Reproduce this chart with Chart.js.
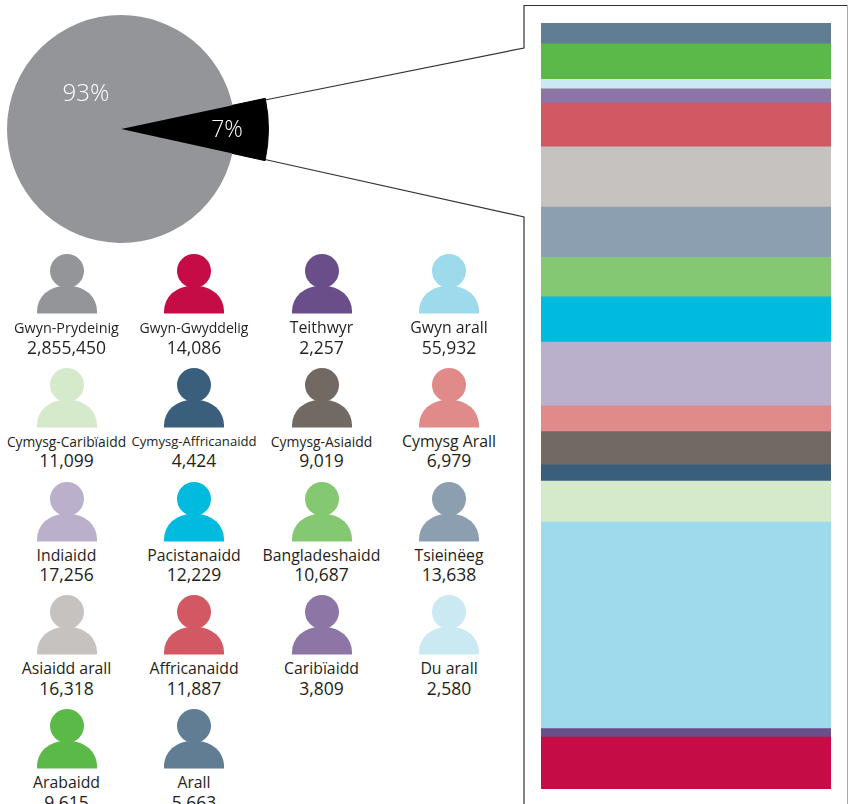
<!DOCTYPE html>
<html lang="cy">
<head>
<meta charset="utf-8">
<title>Grwpiau ethnig</title>
<style>
html, body { margin: 0; padding: 0; background: #fff; }
body { position: relative; width: 848px; height: 804px; overflow: hidden; font-family: "Open Sans", sans-serif; color: #231f20; }
canvas, svg, .txt { position: absolute; }
#pie { left: -27px; top: -19px; }
#bar { left: 541px; top: 23px; }
#frame { left: 0; top: 0; }
.txt { transform: translate(-50%, -50%); white-space: nowrap; }
.pct { color: #fff; font-weight: 300; }
</style>
</head>
<body>
<svg id="frame" width="848" height="804">
  <polyline points="265,100 524,48 524,5.5 847.5,5.5" fill="none" stroke="#333" stroke-width="1.2"/>
  <polyline points="265,159.5 524,217 524,804" fill="none" stroke="#333" stroke-width="1.2"/>
  <line x1="847.5" y1="5.5" x2="847.5" y2="804" stroke="#aaa" stroke-width="1"/>
</svg>
<canvas id="pie" width="296" height="296"></canvas>
<canvas id="bar" width="290" height="766"></canvas>
<div id="people"></div>
<script src="https://cdn.jsdelivr.net/npm/chart.js@4"></script>
<script>
const CATEGORIES = ['Gwyn-Prydeinig', 'Gwyn-Gwyddelig', 'Teithwyr', 'Gwyn arall',
    'Cymysg-Caribïaidd', 'Cymysg-Affricanaidd', 'Cymysg-Asiaidd', 'Cymysg Arall',
    'Indiaidd', 'Pacistanaidd', 'Bangladeshaidd', 'Tsieinëeg',
    'Asiaidd arall', 'Affricanaidd', 'Caribïaidd', 'Du arall',
    'Arabaidd', 'Arall'];
const COUNTS = [2855450, 14086, 2257, 55932,
    11099, 4424, 9019, 6979,
    17256, 12229, 10687, 13638,
    16318, 11887, 3809, 2580,
    9615, 5663];
const COLORS = ['#939598', '#c60c46', '#6a4e8a', '#9cdaec',
    '#d5e9cb', '#3a5f7d', '#716962', '#e08a8a',
    '#bab0cc', '#00bbdd', '#85c872', '#8c9fb1',
    '#c6c2bf', '#d25963', '#8d76a5', '#cae9f2',
    '#5bba47', '#607d94'];
const PIE_LABELS = ['93%', '7%'];

// labels that are set smaller in the original so they fit the column
const LABEL_SIZES = {
    'Gwyn-Prydeinig': 14.4, 'Gwyn-Gwyddelig': 14,
    'Cymysg-Caribïaidd': 13.8, 'Cymysg-Affricanaidd': 13.1, 'Cymysg-Asiaidd': 13.9
};

const COL_X = [66.5, 194, 321.5, 449];
const ROW_Y = 254;
const ROW_STEP = 113.75;

const others = COUNTS.slice(1);
const othersTotal = others.reduce((a, b) => a + b, 0);

Chart.defaults.animation = false;
Chart.defaults.responsive = false;
Chart.defaults.plugins.legend.display = false;
Chart.defaults.plugins.tooltip.enabled = false;

// outer ring only shows the black slice, which sticks out past the grey disc
new Chart(document.getElementById('pie'), {
    type: 'pie',
    data: {
        labels: ['Lleiafrifoedd', CATEGORIES[0]],
        datasets: [
            { data: [othersTotal, COUNTS[0]], backgroundColor: ['#000', 'transparent'], borderColor: '#000', borderWidth: [1, 0], weight: 33.5 },
            { data: [othersTotal, COUNTS[0]], backgroundColor: ['#000', COLORS[0]], borderColor: '#000', borderWidth: [1, 0], weight: 114 }
        ]
    },
    options: { rotation: 78 }
});

new Chart(document.getElementById('bar'), {
    type: 'bar',
    data: {
        labels: [''],
        datasets: others.map((v, i) => ({
            label: CATEGORIES[i + 1],
            data: [v],
            backgroundColor: COLORS[i + 1],
            borderWidth: 0,
            stack: 'all',
            barPercentage: 1,
            categoryPercentage: 1
        }))
    },
    options: {
        scales: {
            x: { display: false, stacked: true },
            y: { display: false, stacked: true, min: 0, max: othersTotal }
        }
    }
});

function addText(parent, text, x, y, size, cls) {
    const el = document.createElement('div');
    el.className = 'txt' + (cls ? ' ' + cls : '');
    el.textContent = text;
    el.style.left = x + 'px';
    el.style.top = y + 'px';
    el.style.fontSize = size + 'px';
    parent.appendChild(el);
}

function addPerson(parent, x, y, color) {
    const ns = 'http://www.w3.org/2000/svg';
    const svg = document.createElementNS(ns, 'svg');
    svg.setAttribute('width', 60);
    svg.setAttribute('height', 60);
    svg.style.left = (x - 30) + 'px';
    svg.style.top = y + 'px';
    svg.innerHTML = '<circle cx="30" cy="17" r="17" fill="' + color + '"/>' +
        '<path d="M0 59.5V57A27 25 0 0 1 27 32H33A27 25 0 0 1 60 57V59.5Z" fill="' + color + '"/>';
    parent.appendChild(svg);
}

const people = document.getElementById('people');
CATEGORIES.forEach((name, i) => {
    const x = COL_X[i % 4];
    const y = ROW_Y + Math.floor(i / 4) * ROW_STEP;
    addPerson(people, x, y, COLORS[i]);
    addText(people, name, x, y + 73, LABEL_SIZES[name] || 15.8);
    addText(people, COUNTS[i].toLocaleString('en-GB'), x, y + 92.5, 17.5);
});

addText(document.body, PIE_LABELS[0], 86, 91, 24, 'pct');
addText(document.body, PIE_LABELS[1], 227, 128, 23, 'pct');
</script>
</body>
</html>
